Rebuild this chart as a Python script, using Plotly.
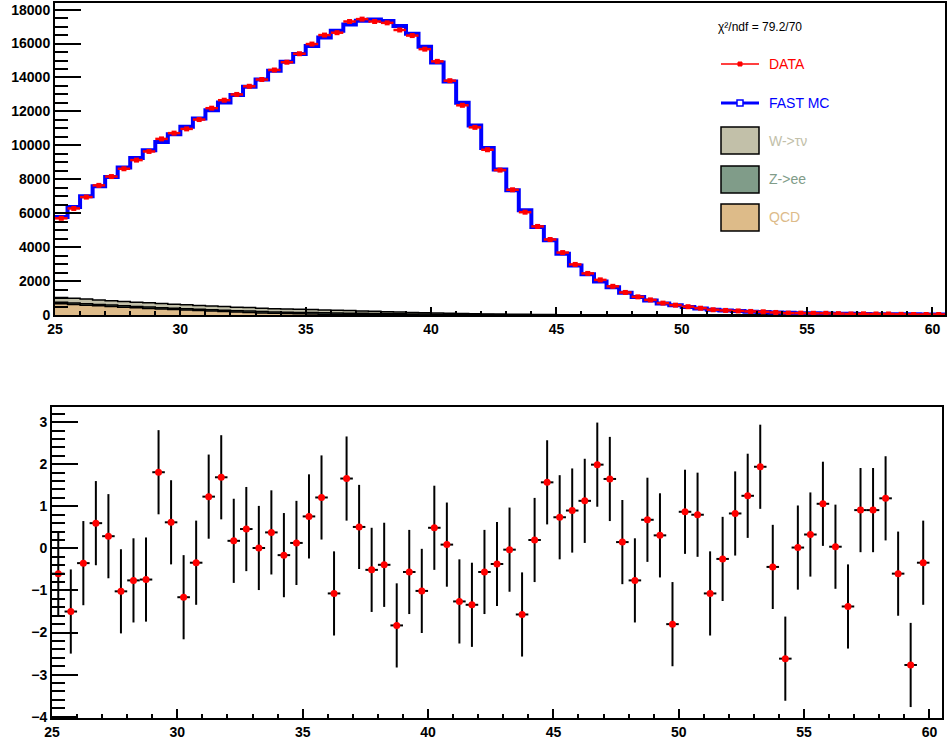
import plotly.graph_objects as go
import numpy as np

# ---------------- data ----------------
bin_edges = [25.0 + 0.5 * i for i in range(72)]          # 71 bins, 25 .. 60.5
bin_centers = [0.5 * (a + b) for a, b in zip(bin_edges[:-1], bin_edges[1:])]

fast_mc = [5780, 6370, 7000, 7590, 8140, 8690, 9260, 9710, 10200, 10660,
           11090, 11580, 12070, 12520, 12960, 13450, 13880, 14390, 14920, 15380,
           15860, 16350, 16760, 17130, 17350, 17420, 17330, 17030, 16580, 15810,
           14890, 13770, 12510, 11170, 9850, 8570, 7350, 6170, 5190, 4400,
           3610, 2920, 2400, 1980, 1630, 1310, 1060, 860, 680, 570,
           470, 380, 310, 270, 230, 190, 170, 150, 130, 110,
           100, 90, 80, 70, 60, 50, 50, 40, 40, 30, 30]

data = [5700, 6280, 6950, 7640, 8160, 8620, 9130, 9640, 10380, 10720,
        10970, 11520, 12190, 12660, 13000, 13480, 13880, 14440, 14900, 15400,
        15970, 16500, 16640, 17300, 17440, 17300, 17220, 16800, 16470, 15670,
        14950, 13810, 12360, 11060, 9740, 8540, 7380, 6060, 5220, 4450,
        3680, 2980, 2450, 2070, 1690, 1330, 1070, 890, 700, 580,
        490, 400, 310, 270, 240, 210, 190, 150, 110, 110,
        100, 100, 80, 60, 70, 60, 60, 40, 30, 30, 30]

qcd = [660, 620, 580, 540, 500, 460, 420, 390, 350, 320,
       290, 260, 230, 200, 170, 150, 120, 100, 85, 70,
       60, 50, 40, 30, 25, 20, 15, 10, 8, 6,
       5, 4, 3, 2, 2, 1, 1, 1, 0, 0,
       0, 0, 0, 0, 0, 0, 0, 0, 0, 0,
       0, 0, 0, 0, 0, 0, 0, 0, 0, 0,
       0, 0, 0, 0, 0, 0, 0, 0, 0, 0, 0]

z_ee = [90, 88, 86, 85, 84, 83, 82, 82, 81, 80,
        80, 80, 80, 80, 80, 80, 80, 80, 80, 80,
        80, 80, 80, 78, 76, 72, 68, 62, 56, 50,
        44, 38, 32, 27, 22, 18, 15, 12, 10, 8,
        6, 5, 4, 3, 3, 2, 2, 2, 1, 1,
        1, 1, 1, 1, 1, 0, 0, 0, 0, 0,
        0, 0, 0, 0, 0, 0, 0, 0, 0, 0, 0]

w_taunu = [280, 275, 270, 265, 260, 255, 250, 245, 240, 235,
           230, 225, 220, 215, 210, 205, 200, 195, 190, 185,
           180, 170, 160, 150, 140, 125, 110, 100, 90, 80,
           70, 60, 52, 45, 40, 35, 30, 26, 22, 19,
           16, 14, 12, 10, 9, 8, 7, 6, 5, 4,
           4, 3, 3, 3, 2, 2, 2, 2, 1, 1,
           1, 1, 1, 1, 1, 1, 1, 1, 1, 1, 1]

pulls = [-0.60, -1.50, -0.35, 0.60, 0.29, -1.02, -0.76, -0.74, 1.81, 0.62,
         -1.16, -0.34, 1.23, 1.69, 0.18, 0.46, 0.01, 0.38, -0.16, 0.13,
         0.76, 1.21, -1.07, 1.66, 0.51, -0.51, -0.39, -1.83, -0.56, -1.01,
         0.49, 0.09, -1.26, -1.34, -0.56, -0.37, -0.03, -1.57, 0.20, 1.57,
         0.74, 0.90, 1.13, 1.99, 1.65, 0.15, -0.76, 0.68, 0.31, -1.80,
         0.87, 0.80, -1.07, -0.25, 0.83, 1.25, 1.94, -0.44, -2.62, 0.02,
         0.33, 1.06, 0.04, -1.38, 0.91, 0.91, 1.19, -0.60, -2.77, -0.34]
pull_err = [1.0] * len(pulls)
pull_x = bin_centers[:len(pulls)]

legend_labels = ["DATA", "FAST MC", "W->\u03c4\u03bd", "Z->ee", "QCD"]
chi2_text = "\u03c7\u00b2/ndf = 79.2/70"

# ---------------- styles ----------------
C_W = "#c2c0a9"
C_Z = "#809c89"
C_QCD = "#ddbb89"
W, H = 949, 742


def step(vals):
    v = list(vals)
    return v + [v[-1]]


def px(x):
    return x / W


def py(y):
    return 1 - y / H


s_qcd = np.array(qcd, dtype=float)
s_z = s_qcd + np.array(z_ee, dtype=float)
s_w = s_z + np.array(w_taunu, dtype=float)

fig = go.Figure()

# stacked backgrounds
fig.add_trace(go.Scatter(x=bin_edges, y=step(s_qcd), mode="lines", line=dict(shape="hv", color="black", width=1.5),
                         fill="tozeroy", fillcolor=C_QCD, xaxis="x", yaxis="y", showlegend=False, hoverinfo="skip"))
fig.add_trace(go.Scatter(x=bin_edges, y=step(s_z), mode="lines", line=dict(shape="hv", color="black", width=1.5),
                         fill="tonexty", fillcolor=C_Z, xaxis="x", yaxis="y", showlegend=False, hoverinfo="skip"))
fig.add_trace(go.Scatter(x=bin_edges, y=step(s_w), mode="lines", line=dict(shape="hv", color="black", width=1.5),
                         fill="tonexty", fillcolor=C_W, xaxis="x", yaxis="y", showlegend=False, hoverinfo="skip"))

# fast MC
fig.add_trace(go.Scatter(x=bin_edges, y=step(fast_mc), mode="lines",
                         line=dict(shape="hv", color="#0000ff", width=4),
                         xaxis="x", yaxis="y", showlegend=False))

# data
fig.add_trace(go.Scatter(x=bin_centers, y=data, mode="markers",
                         marker=dict(symbol="square", size=5, color="#ff0000"),
                         error_x=dict(type="constant", value=0.25, color="#ff0000", thickness=2.5, width=0),
                         xaxis="x", yaxis="y", showlegend=False))

# pulls
fig.add_trace(go.Scatter(x=pull_x, y=pulls, mode="markers",
                         marker=dict(symbol="circle", size=7, color="#ff0000"),
                         error_x=dict(type="constant", value=0.25, color="black", thickness=2, width=0),
                         error_y=dict(type="data", array=pull_err, color="black", thickness=2, width=0),
                         xaxis="x2", yaxis="y2", showlegend=False))

tickfont = dict(family="Liberation Sans", size=14, color="black", weight="bold")

common_axis = dict(showgrid=False, zeroline=False, showline=True, linecolor="black", linewidth=2,
                   mirror=True, ticks="inside", tickcolor="black", tickwidth=2, tickfont=tickfont,
                   automargin=False)

fig.update_layout(
    template="none",
    width=W, height=H,
    margin=dict(l=0, r=0, t=0, b=0, pad=0),
    paper_bgcolor="white", plot_bgcolor="white",
    showlegend=False,
    xaxis=dict(domain=[px(55), px(945)], range=[25, 60.5], dtick=5, tick0=25, ticklen=8,
               minor=dict(dtick=1, ticklen=4, ticks="inside", tickcolor="black", tickwidth=2),
               anchor="y", **common_axis),
    yaxis=dict(domain=[py(315), py(3)], range=[0, 18390], dtick=2000, tick0=0, ticklen=26,
               tickformat="d",
               minor=dict(dtick=500, ticklen=13, ticks="inside", tickcolor="black", tickwidth=2),
               anchor="x", **common_axis),
    xaxis2=dict(domain=[px(52), px(942)], range=[25, 60.5], dtick=5, tick0=25, ticklen=9,
                minor=dict(dtick=1, ticklen=4, ticks="inside", tickcolor="black", tickwidth=2),
                anchor="y2", **common_axis),
    yaxis2=dict(domain=[py(718), py(407)], range=[-4.03, 3.36], dtick=1, tick0=0, ticklen=26,
                minor=dict(dtick=0.2, ticklen=13, ticks="inside", tickcolor="black", tickwidth=2),
                anchor="x2", **common_axis),
)

# ---------------- legend (ROOT style) ----------------
shapes = []
annotations = []
lx0, lx1 = 721, 759
txt_x = 767

annotations.append(dict(x=px(716), y=py(27), xref="paper", yref="paper", text=chi2_text, showarrow=False,
                        xanchor="left", yanchor="middle",
                        font=dict(family="Liberation Sans", size=12, color="black")))

# DATA
shapes.append(dict(type="line", xref="paper", yref="paper", x0=px(lx0), x1=px(lx1), y0=py(64), y1=py(64),
                   line=dict(color="#ff0000", width=1.5)))
shapes.append(dict(type="rect", xref="paper", yref="paper", x0=px(738), x1=px(742), y0=py(66), y1=py(62),
                   line=dict(color="#ff0000", width=1), fillcolor="#ff0000"))
annotations.append(dict(x=px(txt_x), y=py(64), xref="paper", yref="paper", text=legend_labels[0], showarrow=False,
                        xanchor="left", yanchor="middle",
                        font=dict(family="Liberation Sans", size=14, color="#ff0000")))
# FAST MC
shapes.append(dict(type="line", xref="paper", yref="paper", x0=px(lx0), x1=px(lx1), y0=py(103), y1=py(103),
                   line=dict(color="#0000ff", width=3)))
shapes.append(dict(type="rect", xref="paper", yref="paper", x0=px(737), x1=px(743), y0=py(106), y1=py(100),
                   line=dict(color="#0000ff", width=1.5), fillcolor="white"))
annotations.append(dict(x=px(txt_x), y=py(103), xref="paper", yref="paper", text=legend_labels[1], showarrow=False,
                        xanchor="left", yanchor="middle",
                        font=dict(family="Liberation Sans", size=14, color="#0000ff")))

for (y0, y1, col, lab) in [(127, 154, C_W, legend_labels[2]),
                           (166, 193, C_Z, legend_labels[3]),
                           (204, 231, C_QCD, legend_labels[4])]:
    shapes.append(dict(type="rect", xref="paper", yref="paper", x0=px(lx0), x1=px(lx1), y0=py(y1), y1=py(y0),
                       line=dict(color="black", width=1.5), fillcolor=col))
    annotations.append(dict(x=px(txt_x), y=py((y0 + y1) / 2), xref="paper", yref="paper", text=lab,
                            showarrow=False, xanchor="left", yanchor="middle",
                            font=dict(family="Liberation Sans", size=14, color=col)))

fig.update_layout(shapes=shapes, annotations=annotations)

fig.write_html("out.html", config={"displayModeBar": False},
               post_script="document.body.style.margin='0px';document.body.style.padding='0px';")
